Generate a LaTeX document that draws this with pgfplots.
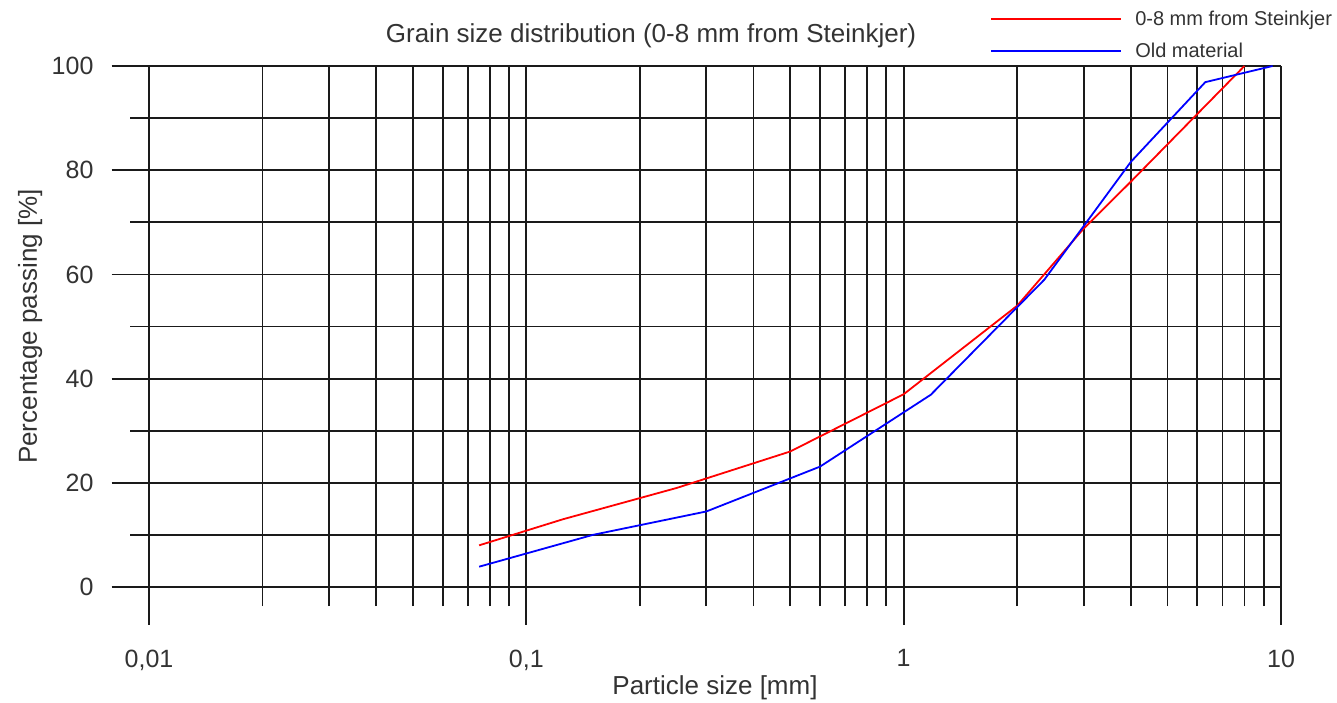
\documentclass[border=0pt]{standalone}
\usepackage{pgfplots}
\pgfplotsset{compat=1.18}
\usepackage{fontspec}
\setmainfont{Liberation Sans}
\definecolor{gridc}{HTML}{1A1A1A}
\definecolor{txt}{HTML}{333333}

% 1 px of the reference = 0.5pt
\begin{document}
\begin{tikzpicture}
\path[use as bounding box] (-74.5pt,-57.5pt) rectangle (594pt,293.5pt);
\begin{axis}[
  xmode=log,
  scale only axis,
  width=566pt, height=260.5pt,
  xmin=0.01, xmax=10,
  ymin=0, ymax=100,
  axis line style={draw=none},
  xtick={0.01,0.1,1,10},
  xticklabels={{0,01},{0,1},1,10},
  minor xtick={0.02,0.03,0.04,0.05,0.06,0.07,0.08,0.09,
               0.2,0.3,0.4,0.5,0.6,0.7,0.8,0.9,
               2,3,4,5,6,7,8,9},
  ytick={0,20,40,60,80,100},
  minor ytick={10,30,50,70,90},
  xtick pos=bottom, ytick pos=left,
  tick align=outside,
  major tick length=18.75pt,
  minor tick length=9.5pt,
  grid=both,
  major grid style={gridc, line width=0.9pt},
  minor grid style={gridc, line width=0.9pt},
  every tick/.style={gridc, line width=0.9pt},
  every minor tick/.style={gridc, line width=0.9pt},
  /pgf/number format/assume math mode=true,
  ticklabel style={font=\fontsize{12.5}{14}\selectfont, text=txt},
  xticklabel style={yshift=-9pt},
  yticklabel style={xshift=-5.5pt},
  xlabel={Particle size [mm]},
  ylabel={Percentage passing [\%]},
  every axis x label/.style={at={(axis description cs:0.5,-0.194)}, anchor=center,
    font=\fontsize{13}{15}\selectfont, text=txt},
  every axis y label/.style={at={(axis description cs:-0.105,0.5)}, anchor=center, rotate=90,
    font=\fontsize{13}{15}\selectfont, text=txt},
  title={Grain size distribution (0-8 mm from Steinkjer)},
  title style={at={(axis description cs:0.4435,1.0345)}, anchor=center,
    font=\fontsize{13}{15}\selectfont, text=txt},
  legend style={at={(axis description cs:0.743,1.0595)}, anchor=west,
    draw=none, fill=none, inner sep=0pt,
    font=\fontsize{10}{12}\selectfont, text=txt,
    nodes={inner sep=0pt, text height=8pt, text depth=2pt},
    /tikz/row sep=6pt,
    /tikz/every odd column/.append style={column sep=6.5pt}},
  legend cell align=left,
  legend image code/.code={\draw[#1] (0pt,0pt) -- (65pt,0pt);},
]
\addplot[red, line width=0.9pt] coordinates {
  (0.075,8) (0.125,13) (0.25,19) (0.5,26) (1,37) (2,54) (3,68.8) (4,77.8) (8,100)
};
\addlegendentry{0-8 mm from Steinkjer}
\addplot[blue, line width=0.9pt] coordinates {
  (0.075,3.9) (0.15,10) (0.3,14.5) (0.6,23.1) (1.18,36.9) (2.36,59)
  (4,81.6) (6.3,96.9) (9.5,100)
};
\addlegendentry{Old material}
\end{axis}
\end{tikzpicture}
\end{document}
